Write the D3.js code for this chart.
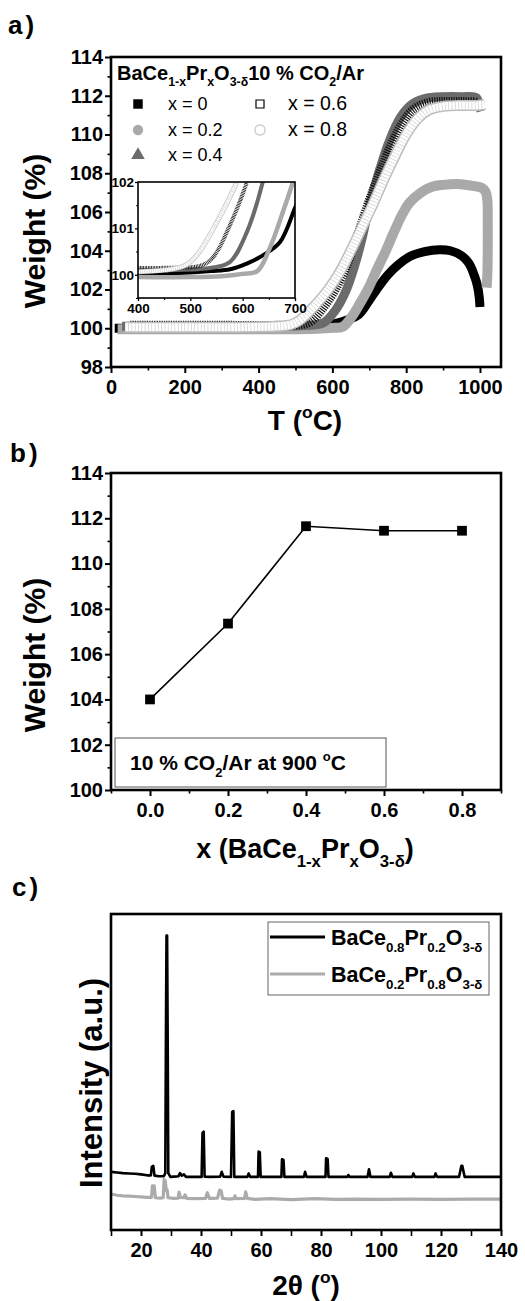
<!DOCTYPE html>
<html>
<head>
<meta charset="utf-8">
<script src="https://cdn.jsdelivr.net/npm/d3@7"></script>
<style>
  body { margin: 0; background: #fff; }
</style>
</head>
<body>
<div id="chart"></div>
<script>
// ---------- data ----------
// a) TGA curves, [T (°C), weight (%)]
const seriesLabels = ["x = 0", "x = 0.2", "x = 0.4", "x = 0.6", "x = 0.8"];

const tga_x00 = [[10,100.0],[100,100.0],[200,100.0],[300,100.0],[400,100.02],[450,100.03],[500,100.05],
  [540,100.08],[576,100.12],[610,100.25],[640,100.43],[671,100.7],[700,101.44],[720,102.0],[750,102.75],
  [780,103.3],[810,103.7],[850,103.95],[890,104.05],[920,104.0],[950,103.75],[970,103.35],[985,102.7],
  [993,102.2],[998,101.6],[1000,101.1]];

const tga_x02 = [[18,99.95],[100,99.95],[200,99.95],[300,99.95],[400,99.95],[500,99.95],[560,99.97],
  [600,100.02],[628,100.08],[652,100.58],[677,101.36],[696,102.0],[720,103.0],[745,104.0],[770,105.1],
  [790,105.9],[810,106.5],[840,107.0],[870,107.3],[900,107.4],[940,107.45],[980,107.35],[1005,107.25],
  [1015,107.05],[1020,106.6],[1021,105.5],[1021,104.0],[1020,102.8],[1018,102.1]];

const tga_x04 = [[30,100.1],[150,100.1],[300,100.1],[450,100.1],[540,100.15],[576,100.28],[608,100.92],
  [637,101.94],[660,103.2],[680,104.6],[700,106.3],[725,108.0],[755,109.7],[785,110.9],[815,111.55],
  [850,111.85],[900,111.95],[950,111.95],[990,111.9],[998,111.5],[1003,111.2]];

const tga_x06 = [[52,100.15],[150,100.15],[300,100.15],[450,100.15],[520,100.2],[543,100.37],[576,101.08],
  [608,102.0],[640,103.3],[670,104.9],[700,106.6],[730,108.1],[760,109.5],[790,110.6],[820,111.3],
  [860,111.65],[900,111.7],[950,111.7],[990,111.65],[1000,111.5]];

const tga_x08 = [[38,100.05],[150,100.05],[300,100.05],[450,100.1],[490,100.2],[513,100.43],[551,101.14],
  [589,102.0],[620,102.9],[650,104.0],[680,105.2],[710,106.4],[740,107.7],[770,108.9],[800,110.0],
  [830,110.8],[860,111.25],[900,111.45],[950,111.5],[990,111.5],[1013,111.55]];

const tempTicks = [0, 200, 400, 600, 800, 1000];
const tempMinor = [100, 300, 500, 700, 900];
const wtTicks = [98, 100, 102, 104, 106, 108, 110, 112, 114];
const wtMinor = [99, 101, 103, 105, 107, 109, 111, 113];
const insetTTicks = [400, 500, 600, 700];
const insetTMinor = [450, 550, 650];
const insetWTicks = [100, 101, 102];
const insetWMinor = [99.5, 100.5, 101.5];

// b) weight gain at 900 °C
const xComp = [0.0, 0.2, 0.4, 0.6, 0.8];
const wt900 = [104.0, 107.35, 111.65, 111.45, 111.45];
const xCompMinor = [-0.1, 0.1, 0.3, 0.5, 0.7, 0.9];
const bTicks = [100, 102, 104, 106, 108, 110, 112, 114];
const bMinor = [101, 103, 105, 107, 109, 111, 113];

// c) XRD patterns, [2θ, intensity (a.u.)]
const xrd_pr02 = [[10,18.4],[12,18.2],[14,18.0],[16,17.9],[18,17.8],[20,17.6],[22,17.3],[23.3,17.3],[23.6,20.0],
  [24.1,20.3],[24.5,17.2],[26,17.0],[27.6,17.0],[28.1,18],[28.3,60],[28.5,93.2],[28.7,93.2],[28.9,60],[29.1,18],
  [29.8,16.8],[31,16.9],[32.5,17.0],[33.0,18.0],[33.6,17.2],[34.3,17.6],[35,16.8],[37,16.8],[40.2,16.8],
  [40.5,30.8],[40.9,31.1],[41.2,16.9],[43,16.8],[46.4,16.9],[46.9,18.4],[47.5,16.9],[50,16.8],[50.4,37.4],
  [50.8,37.6],[51.1,16.8],[53,16.8],[55.4,16.8],[55.9,17.9],[56.4,16.8],[59.0,16.8],[59.2,24.8],[59.6,24.6],
  [59.9,16.8],[64,16.8],[66.8,16.8],[67.0,22.4],[67.5,22.2],[67.8,16.8],[72,16.8],[74.3,16.8],[74.7,18.4],
  [75.2,16.8],[78,16.8],[81.5,16.8],[81.7,22.7],[82.2,22.5],[82.5,16.8],[86,16.8],[88.8,16.8],[89.1,17.4],
  [89.5,16.8],[93,16.8],[95.5,16.8],[96.0,19.2],[96.5,16.8],[100,16.8],[102.9,16.8],[103.3,18.1],[103.8,16.8],
  [107,16.8],[110.4,16.8],[110.8,17.9],[111.3,16.8],[115,16.8],[117.8,16.8],[118.2,17.9],[118.7,16.8],
  [122,16.8],[126.0,16.8],[126.8,20.3],[127.1,20.3],[127.9,16.8],[132,16.8],[140,16.8]];

const xrd_pr08 = [[10,11.4],[12,11.0],[14,10.8],[16,10.7],[18,10.6],[20,10.5],[22,10.3],[23.5,10.3],[23.8,14.0],
  [24.4,14.0],[24.8,10.2],[26.5,10.1],[27.4,10.2],[27.7,16.0],[28.1,15.5],[28.4,12.5],[28.7,12.8],[29.0,10.2],
  [31,10.0],[32.4,10.1],[32.7,12.0],[33.1,10.3],[34.3,10.2],[34.7,11.1],[35.2,10.0],[38,9.9],[41.5,10.0],
  [42.1,11.8],[42.8,10.0],[45.5,10.1],[46.2,12.6],[46.7,12.4],[47.2,10.0],[49,9.8],[51.0,9.9],[51.3,10.8],
  [51.7,9.9],[54.5,10.0],[54.9,12.1],[55.4,10.0],[58,9.7],[63,9.9],[70,9.6],[78,9.9],[85,9.7],[92,9.8],
  [100,9.7],[110,9.8],[120,9.7],[130,9.8],[140,9.8]];

const twoThetaTicks = [20, 40, 60, 80, 100, 120, 140];
const twoThetaMinor = [10, 30, 50, 70, 90, 110, 130];

// ---------- helpers ----------
const FONT = '"Liberation Sans", Arial, Helvetica, sans-serif';

var svg = d3.select("#chart")
  .append("svg")
    .attr("width", 525)
    .attr("height", 1301)
    .attr("font-family", FONT);

// text with sub / superscripts
function rich(g, x, y, parts, size, anchor) {
  var t = g.append("text")
    .attr("x", x).attr("y", y)
    .attr("font-size", size)
    .attr("font-weight", "bold")
    .attr("text-anchor", anchor || "start");
  var shift = 0;
  parts.forEach(function(p) {
    var k = p[1] || "";
    var target = k === "sub" ? size * 0.32 : k === "sup" ? -size * 0.42 : 0;
    t.append("tspan")
      .attr("dy", target - shift)
      .attr("font-size", k ? size * 0.62 : size)
      .text(p[0]);
    shift = target;
  });
  return t;
}

function styleAxis(sel, size, w) {
  sel.attr("font-family", FONT);
  sel.select(".domain").remove();
  sel.selectAll(".tick line").attr("stroke", "#000").attr("stroke-width", w);
  sel.selectAll(".tick text")
    .attr("font-size", size)
    .attr("font-weight", "bold")
    .attr("fill", "#000");
}

function addAxes(g, x, y, o) {
  var bottom = y.range()[0], left = x.range()[0];
  g.append("g").attr("transform", `translate(0,${bottom})`)
    .call(d3.axisBottom(x).tickValues(o.xt).tickSize(o.major).tickPadding(o.pad).tickFormat(o.xf))
    .call(styleAxis, o.font, o.w);
  g.append("g").attr("transform", `translate(0,${bottom})`)
    .call(d3.axisBottom(x).tickValues(o.xm).tickSize(o.minor).tickFormat(""))
    .call(styleAxis, o.font, o.w * 0.8);
  if (o.yt) {
    g.append("g").attr("transform", `translate(${left},0)`)
      .call(d3.axisLeft(y).tickValues(o.yt).tickSize(o.major).tickPadding(o.ypad).tickFormat(d3.format("d")))
      .call(styleAxis, o.font, o.w);
    g.append("g").attr("transform", `translate(${left},0)`)
      .call(d3.axisLeft(y).tickValues(o.ym).tickSize(o.minor).tickFormat(""))
      .call(styleAxis, o.font, o.w * 0.8);
  }
  // frame
  g.append("rect")
    .attr("x", left).attr("y", y.range()[1])
    .attr("width", x.range()[1] - left).attr("height", bottom - y.range()[1])
    .attr("fill", "none").attr("stroke", "#000").attr("stroke-width", o.frame);
}

function clipRect(id, x, y) {
  svg.append("clipPath").attr("id", id).append("rect")
    .attr("x", x.range()[0]).attr("y", y.range()[1])
    .attr("width", x.range()[1] - x.range()[0]).attr("height", y.range()[0] - y.range()[1]);
}

// draws the five TGA curves on the given scales, k = thickness factor
function drawTGA(g, x, y, k) {
  var line = d3.line()
    .x(d => x(d[0])).y(d => y(d[1]))
    .curve(d3.curveCatmullRom.alpha(0.5));
  function band(data, color, w, dash) {
    g.append("path").datum(data).attr("d", line)
      .attr("fill", "none").attr("stroke", color).attr("stroke-width", w)
      .attr("stroke-linejoin", "round")
      .attr("stroke-dasharray", dash || null);
  }
  band(tga_x00, "#000", 9 * k);
  band(tga_x02, "#a9a9a9", 10 * k);
  band(tga_x04, "#6b6b6b", 9 * k);
  band(tga_x06, "#111", 9 * k, `${Math.max(0.8, 1.2 * k)} ${Math.max(0.8, 1.2 * k)}`);
  band(tga_x08, "#bdbdbd", 11 * k);
  band(tga_x08, "#fff", 8 * k);
  band(tga_x08, "#d0d0d0", 8 * k, `${0.7} ${Math.max(1.5, 2.6 * k)}`);
}

// ---------- a) ----------
var gA = svg.append("g");
var xA = d3.scaleLinear().domain([0, 1057]).range([111, 501]);
var yA = d3.scaleLinear().domain([98, 114]).range([367, 57]);

clipRect("clipA", xA, yA);
var curvesA = gA.append("g").attr("clip-path", "url(#clipA)");
drawTGA(curvesA, xA, yA, 1);

addAxes(gA, xA, yA, {xt: tempTicks, xm: tempMinor, yt: wtTicks, ym: wtMinor, xf: d3.format("d"),
  major: 6, minor: 3.5, pad: 7, ypad: 2, font: 20, w: 2, frame: 2.6});

// inset
var xI = d3.scaleLinear().domain([400, 700]).range([138, 295]);
var yI = d3.scaleLinear().domain([99.5, 102]).range([298, 182]);
gA.append("rect").attr("x", 138).attr("y", 182).attr("width", 157).attr("height", 116).attr("fill", "#fff");
clipRect("clipI", xI, yI);
var curvesI = gA.append("g").attr("clip-path", "url(#clipI)");
drawTGA(curvesI, xI, yI, 0.45);
addAxes(gA, xI, yI, {xt: insetTTicks, xm: insetTMinor, yt: insetWTicks, ym: insetWMinor, xf: d3.format("d"),
  major: 3, minor: 2, pad: 2, ypad: 1, font: 14, w: 1.3, frame: 1.6});
gA.selectAll("text").filter(function() { return +this.getAttribute("font-size") === 14; })
  .attr("font-size", 13.5);

// legend
rich(gA, 117, 80, [["BaCe"],["1-x","sub"],["Pr"],["x","sub"],["O"],["3-δ","sub"],["10 % CO"],["2","sub"],["/Ar"]], 20);

var legendItems = [
  {sym: d3.symbolSquare, size: 90, fill: "#000", stroke: "none", cx: 138, cy: 104, tx: 168, ty: 110, fs: 18},
  {sym: d3.symbolCircle, size: 85, fill: "#a9a9a9", stroke: "none", cx: 138, cy: 130, tx: 168, ty: 136, fs: 18},
  {sym: d3.symbolTriangle, size: 80, fill: "#6b6b6b", stroke: "none", cx: 138, cy: 155, tx: 168, ty: 161, fs: 18},
  {sym: d3.symbolSquare, size: 64, fill: "#fff", stroke: "#000", cx: 260, cy: 104, tx: 288, ty: 110, fs: 19.5},
  {sym: d3.symbolCircle, size: 85, fill: "#fff", stroke: "#c4c4c4", cx: 260, cy: 130, tx: 288, ty: 136, fs: 19.5}
];
legendItems.forEach(function(d, i) {
  gA.append("path")
    .attr("d", d3.symbol().type(d.sym).size(d.size))
    .attr("transform", `translate(${d.cx},${d.cy})`)
    .attr("fill", d.fill).attr("stroke", d.stroke).attr("stroke-width", 1.2);
  gA.append("text").attr("x", d.tx).attr("y", d.ty)
    .attr("font-size", d.fs).text(seriesLabels[i]);
});

// axis titles
rich(gA, 0, 0, [["Weight (%)"]], 30, "middle").attr("transform", "translate(45,231) rotate(-90)");
rich(gA, 305, 430, [["T ("],["o","sup"],["C)"]], 28, "middle");
gA.append("text").attr("x", 8).attr("y", 34).attr("font-size", 26).attr("font-weight", "bold")
  .attr("letter-spacing", 3).text("a)");

// ---------- b) ----------
var gB = svg.append("g");
var xB = d3.scaleLinear().domain([-0.1, 0.9]).range([111, 501]);
var yB = d3.scaleLinear().domain([100, 114]).range([790, 473]);

var pts = xComp.map((d, i) => [d, wt900[i]]);
gB.append("path").datum(pts)
  .attr("d", d3.line().x(d => xB(d[0])).y(d => yB(d[1])))
  .attr("fill", "none").attr("stroke", "#000").attr("stroke-width", 1.6);
gB.selectAll(".pt").data(pts).join("path")
  .attr("class", "pt")
  .attr("d", d3.symbol().type(d3.symbolSquare).size(95))
  .attr("transform", d => `translate(${xB(d[0])},${yB(d[1])})`)
  .attr("fill", "#000");

addAxes(gB, xB, yB, {xt: xComp, xm: xCompMinor, yt: bTicks, ym: bMinor, xf: d3.format(".1f"),
  major: 6, minor: 3.5, pad: 7, ypad: 2, font: 20, w: 2, frame: 2.6});

gB.append("rect").attr("x", 115).attr("y", 738).attr("width", 271).attr("height", 49)
  .attr("fill", "#fff").attr("stroke", "#555").attr("stroke-width", 1);
rich(gB, 130, 770, [["10 % CO"],["2","sub"],["/Ar at 900 "],["o","sup"],["C"]], 21);

rich(gB, 0, 0, [["Weight (%)"]], 30, "middle").attr("transform", "translate(45,655) rotate(-90)");
rich(gB, 305, 858, [["x (BaCe"],["1-x","sub"],["Pr"],["x","sub"],["O"],["3-δ","sub"],[")"]], 27, "middle");
gB.append("text").attr("x", 10).attr("y", 462).attr("font-size", 26).attr("font-weight", "bold")
  .attr("letter-spacing", 3).text("b)");

// ---------- c) ----------
var gC = svg.append("g");
var xC = d3.scaleLinear().domain([10, 140]).range([111, 501]);
var yC = d3.scaleLinear().domain([0, 100]).range([1230, 914]);

clipRect("clipC", xC, yC);
var curvesC = gC.append("g").attr("clip-path", "url(#clipC)");
var xrdLine = d3.line().x(d => xC(d[0])).y(d => yC(d[1]));
curvesC.append("path").datum(xrd_pr08).attr("d", xrdLine)
  .attr("fill", "none").attr("stroke", "#ababab").attr("stroke-width", 3.2).attr("stroke-linejoin", "round");
curvesC.append("path").datum(xrd_pr02).attr("d", xrdLine)
  .attr("fill", "none").attr("stroke", "#000").attr("stroke-width", 2.6).attr("stroke-linejoin", "round");

addAxes(gC, xC, yC, {xt: twoThetaTicks, xm: twoThetaMinor, xf: d3.format("d"),
  major: 6, minor: 6, pad: 7, font: 20, w: 2, frame: 2.6});

// legend
gC.append("rect").attr("x", 268).attr("y", 922).attr("width", 221).attr("height", 73)
  .attr("fill", "#fff").attr("stroke", "#666").attr("stroke-width", 1);
gC.append("line").attr("x1", 270).attr("x2", 325).attr("y1", 937).attr("y2", 937)
  .attr("stroke", "#000").attr("stroke-width", 3);
gC.append("line").attr("x1", 270).attr("x2", 325).attr("y1", 974).attr("y2", 974)
  .attr("stroke", "#ababab").attr("stroke-width", 3.2);
rich(gC, 331, 945, [["BaCe"],["0.8","sub"],["Pr"],["0.2","sub"],["O"],["3-δ","sub"]], 21.5);
rich(gC, 331, 982, [["BaCe"],["0.2","sub"],["Pr"],["0.8","sub"],["O"],["3-δ","sub"]], 21.5);

rich(gC, 0, 0, [["Intensity (a.u.)"]], 31, "middle").attr("transform", "translate(102,1083) rotate(-90)");
rich(gC, 306, 1295, [["2θ ("],["o","sup"],[")"]], 28, "middle");
gC.append("text").attr("x", 12).attr("y", 896).attr("font-size", 26).attr("font-weight", "bold")
  .attr("letter-spacing", 3).text("c)");
</script>
</body>
</html>
